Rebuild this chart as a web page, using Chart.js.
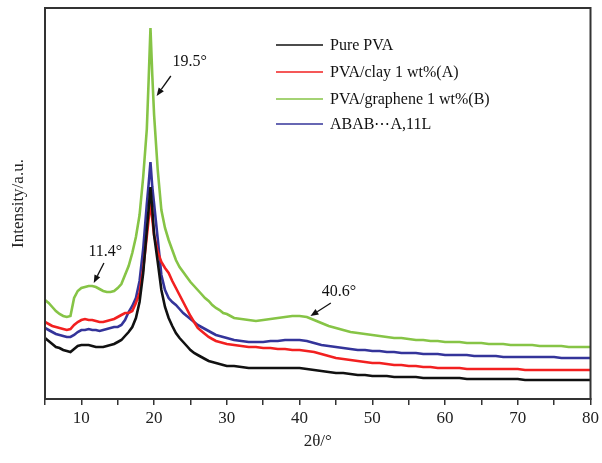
<!DOCTYPE html>
<html>
<head>
<meta charset="utf-8">
<script src="https://cdn.jsdelivr.net/npm/chart.js@4/dist/chart.umd.min.js"></script>
<style>
html,body{margin:0;padding:0;background:#fff;}
#wrap{width:602px;height:463px;position:relative;}
</style>
</head>
<body>
<div id="wrap"><canvas id="c" width="602" height="463"></canvas></div>
<script>
// 2θ positions (degrees)
const twoTheta = [5,5.5,6,6.5,7,7.5,8,8.5,9,9.5,10,10.5,11,11.5,12,12.5,13,13.5,14,14.5,15,15.5,16,16.5,17,17.5,18,18.5,19,19.25,19.5,19.75,20,20.5,21,21.5,22,22.5,23,23.5,24,24.5,25,25.5,26,26.5,27,27.5,28,28.5,29,29.5,30,
31,32,33,34,35,36,37,38,39,40,41,42,43,44,45,46,47,48,49,50,51,52,53,54,55,56,57,58,59,60,61,62,63,64,65,66,67,68,69,70,71,72,73,74,75,76,77,78,79,80];

const seriesNames = ["Pure PVA","PVA/clay 1 wt%(A)","PVA/graphene 1 wt%(B)","ABAB\u22EFA,11L"];
const seriesColors = ["#111111","#f22020","#86c446","#34349a"];

// Intensity (a.u.)
const purePVA = [61,58,55,52,51,49,48,47,50,53,54,54,54,53,52,52,52,53,54,55,57,59,63,67,72,81,97,126,169,190,212,190,164,137,109,92,81,73,66,61,57,53,49,46,44,42,40,38,37,36,35,34,33,
33,32,31,31,31,31,31,31,31,31,30,29,28,27,26,26,25,24,24,23,23,23,22,22,22,22,21,21,21,21,21,21,20,20,20,20,20,20,20,20,19,19,19,19,19,19,19,19,19,19];

const clayA = [77,75,73,72,71,70,69,70,74,77,79,80,79,79,78,77,77,78,79,80,82,84,86,86,88,96,106,130,163,180,197,180,164,147,137,131,126,118,111,104,97,90,83,77,71,68,65,62,60,58,57,56,55,
54,53,52,52,51,51,50,50,49,49,48,47,45,43,41,40,39,38,37,36,36,35,34,34,33,33,32,32,31,31,31,31,30,30,30,30,30,30,30,30,29,29,29,29,29,29,29,29,29,29];

const grapheneB = [99,96,92,88,85,83,82,83,101,108,111,112,113,113,112,110,108,107,107,108,111,115,124,133,146,162,184,222,270,319,371,324,284,229,189,171,159,149,139,132,127,122,117,113,109,105,101,98,94,91,89,86,85,
81,80,79,78,79,80,81,82,83,83,82,79,76,73,71,69,67,66,65,64,63,62,61,61,60,59,59,58,58,57,57,57,56,56,56,55,55,55,54,54,54,54,53,53,53,53,52,52,52,52];

const ababA = [71,69,67,65,64,63,62,62,64,67,69,69,70,69,69,68,69,70,71,72,72,74,79,87,93,101,118,150,195,215,237,212,195,160,124,109,101,97,94,90,86,83,80,77,74,72,70,68,66,64,63,62,61,
59,58,57,57,57,58,58,59,59,59,58,56,54,53,52,51,50,49,49,48,48,47,47,46,46,46,45,45,45,44,44,44,44,43,43,43,43,42,42,42,42,42,42,42,42,41,41,41,41,41];

const xTicks = [10,20,30,40,50,60,70,80];

// annotations: [text, textX, textY, tailX, tailY, tipX, tipY] in data units
const notes = [
  ["19.5\u00B0", 24.9, 337, 22.3, 323, 20.35, 303],
  ["11.4\u00B0", 13.3, 147, 13.1, 136, 11.7, 116],
  ["40.6\u00B0", 45.4, 107, 44.3, 96, 41.5, 83]
];

const allSeries = [purePVA, clayA, grapheneB, ababA];
const datasets = allSeries.map((arr, i) => ({
  label: seriesNames[i],
  data: arr.map((v, k) => ({x: twoTheta[k], y: v})),
  borderColor: seriesColors[i],
  backgroundColor: seriesColors[i],
  borderWidth: 2.6,
  pointRadius: 0,
  tension: 0,
  fill: false
}));

const SERIF = "'Liberation Serif','DejaVu Serif',serif";

const decor = {
  id: 'decor',
  afterDraw(chart) {
    const ctx = chart.ctx, a = chart.chartArea;
    const xs = chart.scales.x, ys = chart.scales.y;
    ctx.save();
    // frame
    ctx.strokeStyle = '#333';
    ctx.lineWidth = 2;
    ctx.strokeRect(a.left, a.top, a.right - a.left, a.bottom - a.top);
    // annotations
    ctx.fillStyle = '#111';
    ctx.strokeStyle = '#111';
    ctx.font = "16px " + SERIF;
    ctx.textAlign = 'center';
    ctx.textBaseline = 'middle';
    notes.forEach(n => {
      ctx.fillText(n[0], xs.getPixelForValue(n[1]), ys.getPixelForValue(n[2]));
      const x1 = xs.getPixelForValue(n[3]), y1 = ys.getPixelForValue(n[4]);
      const x2 = xs.getPixelForValue(n[5]), y2 = ys.getPixelForValue(n[6]);
      const ang = Math.atan2(y2 - y1, x2 - x1);
      const hl = 8, hw = 3.2;
      const bx = x2 - hl * Math.cos(ang), by = y2 - hl * Math.sin(ang);
      ctx.lineWidth = 1.3;
      ctx.beginPath(); ctx.moveTo(x1, y1); ctx.lineTo(bx, by); ctx.stroke();
      ctx.beginPath();
      ctx.moveTo(x2, y2);
      ctx.lineTo(bx + hw * Math.sin(ang), by - hw * Math.cos(ang));
      ctx.lineTo(bx - hw * Math.sin(ang), by + hw * Math.cos(ang));
      ctx.closePath(); ctx.fill();
    });
    // legend
    ctx.textAlign = 'left';
    ctx.font = "16px " + SERIF;
    const rows = [45, 72, 99, 124];
    chart.data.datasets.forEach((ds, i) => {
      const y = rows[i];
      ctx.strokeStyle = ds.borderColor;
      ctx.lineWidth = 1.3;
      ctx.beginPath(); ctx.moveTo(276, y); ctx.lineTo(323, y); ctx.stroke();
      ctx.fillStyle = '#111';
      ctx.fillText(ds.label, 330, y + 1);
    });
    ctx.restore();
  }
};

new Chart(document.getElementById('c'), {
  type: 'line',
  data: { datasets },
  options: {
    responsive: false,
    animation: false,
    layout: { padding: { left: 0, right: 11, top: 8, bottom: 11 } },
    plugins: { legend: { display: false }, tooltip: { enabled: false } },
    scales: {
      x: {
        type: 'linear',
        min: 5, max: 80,
        border: { display: true, color: '#333', width: 2 },
        grid: { display: true, drawOnChartArea: false, drawTicks: true, tickLength: 6, color: '#333', lineWidth: 1.5 },
        ticks: {
          stepSize: 5,
          autoSkip: false,
          maxRotation: 0,
          padding: 3,
          color: '#222',
          font: { family: SERIF, size: 17 },
          callback: v => xTicks.includes(v) ? String(v) : ''
        },
        title: { display: true, text: '2\u03B8/\u00B0', color: '#222', font: { family: SERIF, size: 17 }, padding: { top: 2, bottom: 0 } },
        afterFit: s => { s.height = 53; }
      },
      y: {
        type: 'linear',
        min: 0, max: 391,
        border: { display: true, color: '#333', width: 2 },
        grid: { display: false },
        ticks: { display: false },
        title: { display: true, text: 'Intensity/a.u.', color: '#222', font: { family: SERIF, size: 17 }, padding: { top: 8, bottom: 0 } },
        afterFit: s => { s.width = 45; }
      }
    }
  },
  plugins: [decor]
});
</script>
</body>
</html>
